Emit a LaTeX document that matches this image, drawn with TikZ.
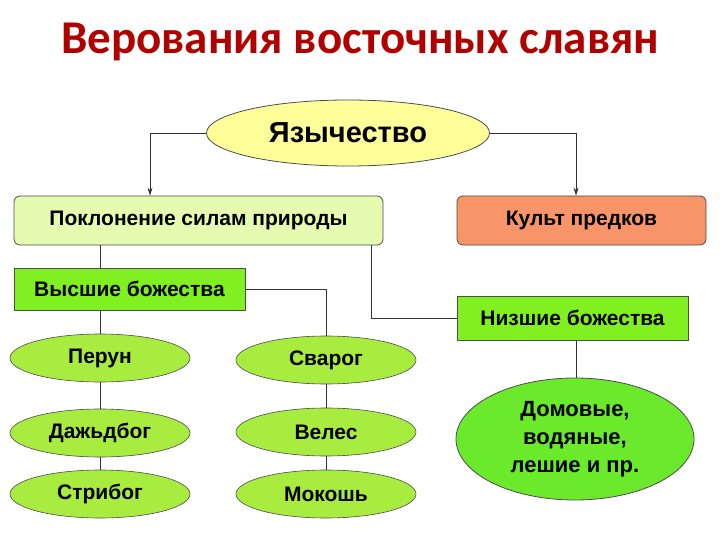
\documentclass[tikz,border=0pt]{standalone}
\usepackage{fontspec}
\setmainfont{Liberation Sans}
\newfontfamily\titlefont{Carlito}
\usetikzlibrary{shapes.geometric,arrows.meta}
\definecolor{titlered}{HTML}{B00000}
\definecolor{paleg}{HTML}{E4FBB0}
\definecolor{brightg}{HTML}{80F020}
\definecolor{ellg}{HTML}{A8EC40}
\definecolor{bigg}{HTML}{6AEA2A}
\definecolor{salmon}{HTML}{F79468}
\definecolor{yell}{HTML}{FFFF99}
\tikzset{
  lbl/.style={font=\bfseries\fontsize{21}{24}\selectfont},
  box/.style={draw=black!70, line width=0.8pt, minimum height=#1, inner sep=0pt},
  godell/.style={ellipse, draw=black!70, line width=0.6pt, fill=ellg, minimum width=180pt, minimum height=48pt, inner sep=0pt, lbl},
  conn/.style={draw=black!80, line width=0.8pt},
}
\begin{document}
\begin{tikzpicture}[x=1pt,y=-1pt]
\useasboundingbox (0,0) rectangle (720,540);
\node[font=\titlefont\bfseries\fontsize{47}{50}\selectfont, text=titlered] (title) at (360,42) {Верования восточных славян};
\node[ellipse, draw=black!70, line width=0.8pt, fill=yell, minimum width=283pt, minimum height=66pt, inner sep=0pt, font=\bfseries\fontsize{29}{32}\selectfont] (pag) at (348,133) {Язычество};
\node[box=49pt, rounded corners=6pt, fill=paleg, minimum width=369pt, lbl] (pokl) at (198.5,220.5) {Поклонение силам природы};
\node[box=49pt, rounded corners=6pt, fill=salmon, minimum width=249pt, lbl] (kult) at (581.5,220.5) {Культ предков};
\node[box=42pt, fill=brightg, minimum width=231pt, lbl] (vys) at (129.5,289) {Высшие божества};
\node[box=44pt, fill=brightg, minimum width=231pt, lbl] (niz) at (572.5,318) {Низшие божества};
\node[godell] (perun) at (100,358) {Перун};
\node[godell] (dazh) at (100,433) {Дажьдбог};
\node[godell] (strib) at (100,494) {Стрибог};
\node[godell] (svar) at (326,360) {Сварог};
\node[godell] (veles) at (326,432) {Велес};
\node[godell] (mokosh) at (326,494) {Мокошь};
\node[ellipse, draw=black!70, line width=0.8pt, fill=bigg, minimum width=238pt, minimum height=122pt, inner sep=0pt, align=center, font=\bfseries\fontsize{22}{28}\selectfont] (dom) at (575,439) {Домовые,\\водяные,\\лешие и пр.};
\draw[conn, -{Stealth[length=8pt,width=5pt]}] (pag.west) -| (pokl.north -| 150,0);
\draw[conn, -{Stealth[length=8pt,width=5pt]}] (pag.east) -| (kult.north -| 576,0);
\draw[conn] (pokl.south -| 100,0) -- (vys.north -| 100,0);
\draw[conn] (vys.east) -| (svar.north);
\draw[conn] (pokl.south -| 371,0) |- (niz.west);
\draw[conn] (niz.south -| 576,0) -- (dom.north -| 576,0);
\draw[conn] (vys.south -| 100,0) -- (perun.north);
\draw[conn] (perun) -- (dazh);
\draw[conn] (dazh) -- (strib);
\draw[conn] (svar) -- (veles);
\draw[conn] (veles) -- (mokosh);
\end{tikzpicture}
\end{document}
